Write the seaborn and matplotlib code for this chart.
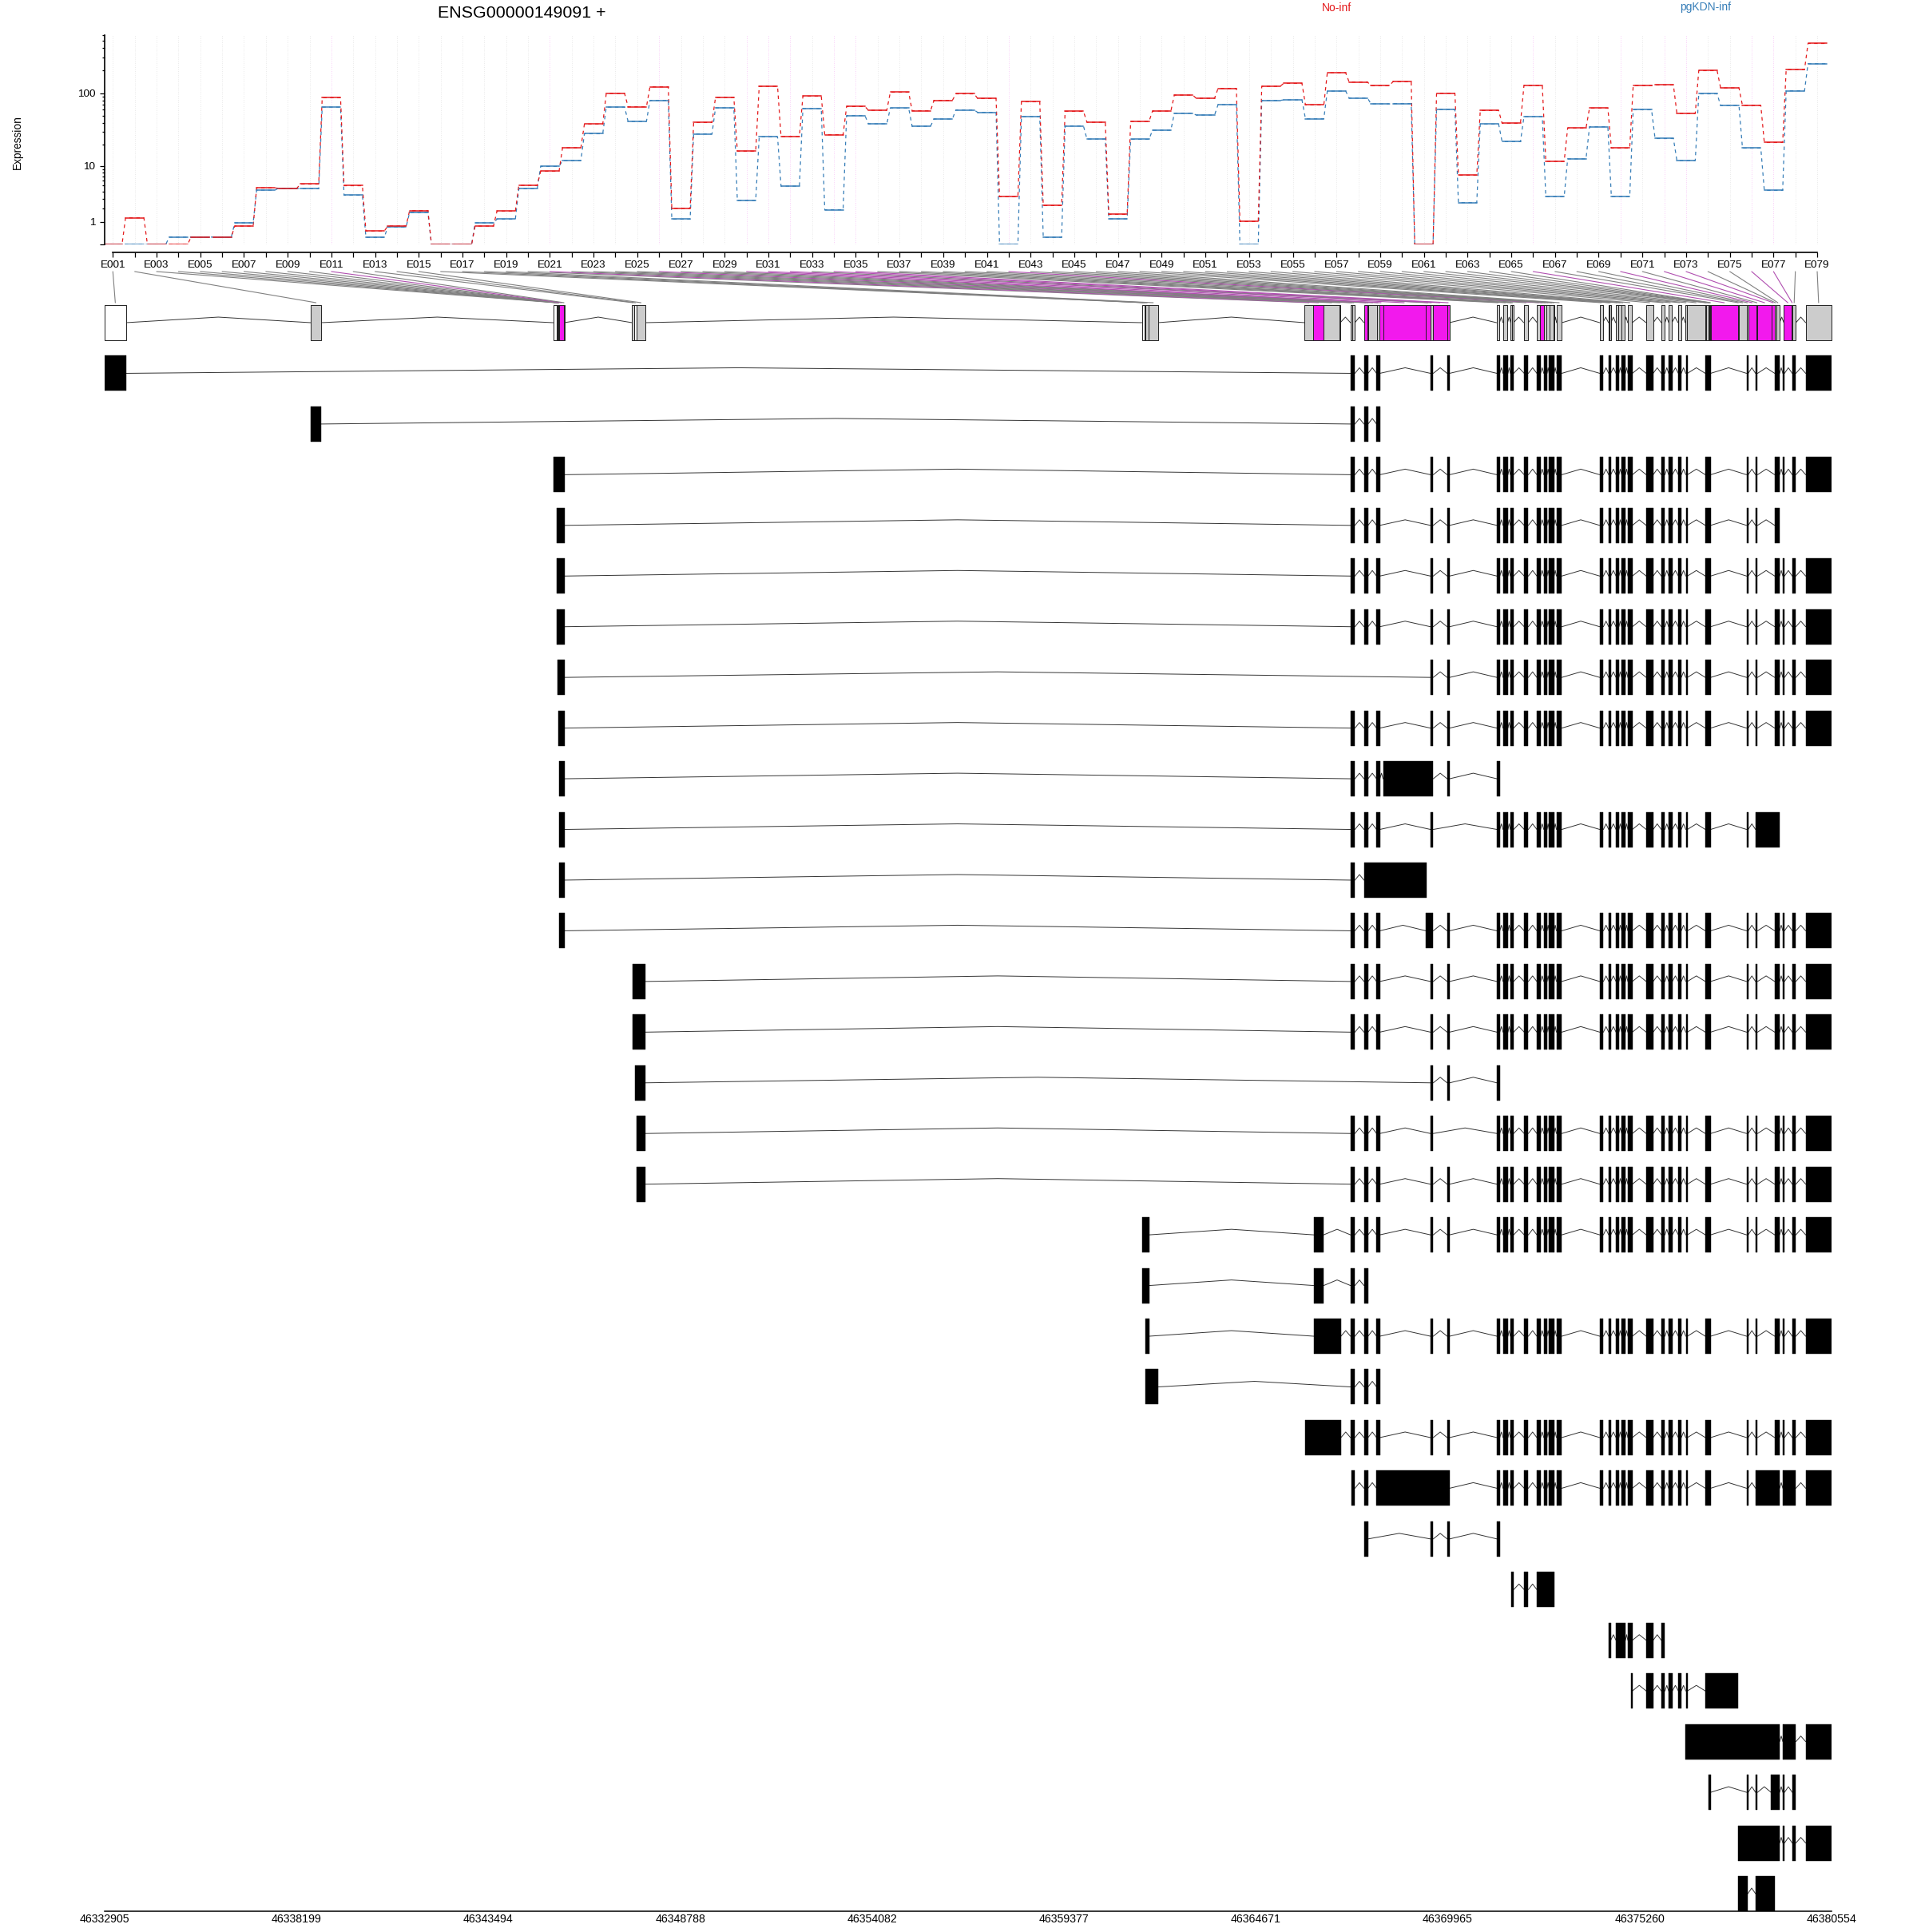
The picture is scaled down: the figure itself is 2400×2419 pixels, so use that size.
import numpy as np
import pandas as pd
import matplotlib
matplotlib.use('Agg')
import matplotlib.pyplot as plt
from matplotlib.patches import ConnectionPatch
import seaborn as sns

W, H = 2400, 2419

gene_id = 'ENSG00000149091 +'
gene_start = 46332905
gene_end = 46380554
genome_ticks = [46332905, 46338199, 46343494, 46348788, 46354082,
                46359377, 46364671, 46369965, 46375260, 46380554]

exon_names = [f'E{i:03d}' for i in range(1, 80)]

no_inf = [0, 1.25, 0, 0, .25, .25, .75, 4.6, 4.55, 5.3,
          86.8, 5.0, .5, .75, 1.8, 0, 0, .75, 1.76, 5.07,
          8.33, 18.1, 38.3, 99, 65.6, 121.5, 2.0, 40.3, 87.5, 16.2,
          123.5, 25.8, 91.2, 27.4, 66.2, 58.9, 103, 58, 80, 98,
          84.7, 3.28, 76.7, 2.27, 57, 40.6, 1.5, 41.6, 57.5, 94.3,
          85.4, 115.7, 1.01, 123.5, 135, 69.5, 187, 140.8, 125.6, 142,
          0, 99.8, 7.26, 58.5, 39.3, 126.6, 11.6, 33.8, 63, 17.9,
          126.6, 128.7, 53.4, 200, 117.6, 68.4, 21.4, 206.7, 459]
pgkdn_inf = [0, 0, 0, .25, .25, .25, .93, 4.24, 4.55, 4.46,
             65, 3.49, .24, .7, 1.65, 0, 0, .93, 1.16, 4.46,
             9.8, 11.9, 28.3, 65, 41.6, 80, 1.16, 28.1, 63.5, 2.82,
             25.6, 4.92, 61.9, 1.88, 49.9, 38.6, 63, 35.8, 44.9, 59.5,
             55.2, 0, 48.3, .24, 36.1, 23.9, 1.18, 23.7, 31.6, 53.8,
             50.8, 70.1, 0, 80, 81.3, 45.2, 106.6, 86.1, 71.8, 72.4,
             0, 60.4, 2.58, 38.3, 22, 48.3, 3.28, 12.6, 35.2, 3.28,
             59.9, 24.3, 11.9, 98, 68.4, 17.9, 4.2, 107.5, 247.4]

# exon bins, bp from gene start
bin_start = [0, 5686, 12376, 12480, 12489, 12498, 12506, 12515, 12524, 12532,
             12541, 12663, 14553, 14604, 14686, 28624, 28691, 28725, 28804, 33112,
             33348, 33635, 34075, 34376, 34430, 34745, 34848, 34870, 35104, 35164,
             35274, 36443, 36575, 36641, 37039, 38406, 38583, 38797, 38826, 39157,
             39525, 39604, 39723, 39774, 39878, 39979, 40062, 41252, 41495, 41528,
             41693, 41775, 41848, 42024, 42532, 42951, 43156, 43414, 43613, 43657,
             44164, 44186, 44246, 44275, 44300, 44319, 45062, 45090, 45304, 45349,
             45569, 45609, 45995, 46081, 46120, 46333, 46553, 46570, 46936]
bin_end = [588, 5979, 12480, 12489, 12498, 12506, 12515, 12524, 12532, 12541,
           12663, 12685, 14604, 14686, 14913, 28691, 28725, 28804, 29063, 33348,
           33635, 34075, 34094, 34430, 34499, 34848, 34870, 35104, 35164, 35274,
           36443, 36575, 36641, 37039, 37105, 38488, 38709, 38826, 38876, 39282,
           39604, 39723, 39774, 39878, 39979, 40001, 40209, 41340, 41528, 41562,
           41775, 41848, 41936, 42150, 42731, 43053, 43244, 43502, 43657, 44164,
           44186, 44246, 44275, 44300, 44319, 45062, 45090, 45304, 45349, 45569,
           45609, 45995, 46081, 46120, 46216, 46553, 46570, 46666, 47649]
sig_bins = [11, 21, 26, 30, 31, 32, 34, 35, 42, 66, 70, 72, 73, 76, 77]
white_bins = [1, 3, 14, 16, 17]

# exons shared by most transcripts
core = [(34376, 34499), (34747, 34860), (35096, 35186), (36582, 36660), (37043, 37111),
        (38416, 38495), (38585, 38720), (38788, 38878), (39170, 39283), (39519, 39620),
        (39710, 39800), (39857, 39992), (40059, 40206), (41253, 41354), (41500, 41556),
        (41703, 41781), (41860, 41962), (42029, 42153), (42536, 42727), (42952, 43053),
        (43154, 43256), (43424, 43503), (43627, 43672), (44167, 44314), (45304, 45349),
        (45552, 45608), (46081, 46216), (46306, 46351), (46565, 46666), (46936, 47649)]

transcripts = [
    [(0, 588)] + core,
    [(5686, 5979)] + core[:3],
    [(12376, 12685)] + core,
    [(12480, 12685)] + core[:27],
    [(12480, 12685)] + core,
    [(12480, 12685)] + core,
    [(12500, 12685)] + core[3:],
    [(12517, 12685)] + core,
    [(12530, 12685)] + core[:3] + [(35276, 36660)] + core[4:6],
    [(12530, 12685)] + core[:4] + core[5:25] + [(45552, 46216)],
    [(12530, 12685)] + core[:1] + [(34747, 36469)],
    [(12530, 12685)] + core[:3] + [(36458, 36660)] + core[4:],
    [(14573, 14913)] + core,
    [(14573, 14913)] + core,
    [(14624, 14913)] + core[3:6],
    [(14680, 14913)] + core[:4] + core[5:],
    [(14680, 14913)] + core,
    [(28632, 28820), (33363, 33636)] + core,
    [(28632, 28820), (33363, 33636)] + core[:2],
    [(28716, 28820), (33363, 34112)] + core,
    [(28716, 29075)] + core[:3],
    [(33127, 34112)] + core,
    [(34409, 34499), core[1], (35096, 37111)] + core[5:25] + [(45552, 46216), (46306, 46666), core[29]],
    [core[1], core[3], core[4], core[5]],
    [(38810, 38878), core[8], (39519, 40003)],
    [(41511, 41556), (41703, 41962), core[17], core[18], core[19]],
    [(42108, 42153)] + core[18:23] + [(44167, 45079)],
    [(43616, 46216), (46306, 46666), core[29]],
    [(44247, 44314), core[24], core[25], (45979, 46216), core[27], core[28]],
    [(45068, 46216), core[27], core[28], core[29]],
    [(45068, 45338), (45552, 46092)],
]

RED = '#E41A1C'
BLUE = '#377EB8'
MAGENTA = '#F219ED'


def px_rect(left, top, right, bottom):
    return [left / W, 1 - bottom / H, (right - left) / W, (bottom - top) / H]


def intron_path(exons, row):
    xs, ys = [], []
    for (_, e0), (s1, _) in zip(exons[:-1], exons[1:]):
        if s1 <= e0:
            continue
        xs += [e0, (e0 + s1) / 2, s1, np.nan]
        ys += [row, row - 0.11, row, np.nan]
    return gene_start + np.array(xs, dtype=float), np.array(ys, dtype=float)


def plot_expression(ax):
    half = 0.42
    rows = []
    for name, vals in [('pgKDN-inf', pgkdn_inf), ('No-inf', no_inf)]:
        for i, v in enumerate(vals, start=1):
            rows.append({'cond': name, 'seg': i, 'x': i - half, 'expr': v})
            rows.append({'cond': name, 'seg': i, 'x': i + half, 'expr': v})
    df = pd.DataFrame(rows)
    palette = {'No-inf': RED, 'pgKDN-inf': BLUE}

    for i, _ in enumerate(exon_names, start=1):
        col = '#F9CDF8' if i in sig_bins else '#E8E8E8'
        ax.axvline(i, color=col, lw=0.7, ls=':', zorder=0)

    sns.lineplot(data=df, x='x', y='expr', hue='cond', palette=palette,
                 hue_order=['pgKDN-inf', 'No-inf'], estimator=None, sort=False,
                 errorbar=None, legend=False, lw=0.9, linestyle=(0, (3.5, 3.5)), ax=ax)
    sns.lineplot(data=df, x='x', y='expr', hue='cond', units='seg', palette=palette,
                 hue_order=['pgKDN-inf', 'No-inf'], estimator=None,
                 errorbar=None, legend=False, lw=1.3, alpha=0.85, ax=ax)

    ax.set_yscale('function', functions=(lambda v: np.log10(np.maximum(v, 0) + 1),
                                         lambda y: 10 ** y - 1))
    ax.set_xlim(0.6235, 79.62)
    ax.set_ylim(0, 600)
    ax.set_xlabel('')
    ax.set_ylabel('')

    sns.despine(ax=ax, top=True, right=True)
    ax.spines['bottom'].set_position(('outward', 7.2))
    ax.spines['bottom'].set_bounds(1, 79)
    ax.spines['bottom'].set_linewidth(1.2)
    ax.spines['left'].set_linewidth(1.2)
    ax.spines['bottom'].set_color('black')
    ax.spines['left'].set_color('black')

    ax.set_xticks(range(1, 80))
    ax.set_xticklabels([n if i % 2 == 0 else '' for i, n in enumerate(exon_names)], fontsize=9.7)
    ax.tick_params(axis='x', bottom=True, length=4.3, width=0.9, pad=3, color='black')

    ax.set_yticks([0, 1, 10, 100])
    ax.set_yticklabels(['', '1', '10', '100'], fontsize=9.7)
    ax.set_yticks([2, 3, 4, 5, 6, 7, 8, 9, 20, 30, 40, 50, 60, 70, 80, 90,
                   200, 300, 400, 500, 600], minor=True)
    ax.tick_params(axis='y', which='major', left=True, length=4.3, width=0.9, pad=4, color='black')
    ax.tick_params(axis='y', which='minor', left=True, length=2.2, width=0.9, color='black')


def plot_model(ax):
    h = 44 / 63.45

    # top row, one box per exon bin
    for i, (s, e) in enumerate(zip(bin_start, bin_end), start=1):
        if i in sig_bins:
            fc = MAGENTA
        elif i in white_bins:
            fc = 'white'
        else:
            fc = '#CCCCCC'
        ax.broken_barh([(gene_start + s, e - s)], (-h / 2, h), facecolors=fc,
                       edgecolor='#222222', linewidth=0.7, zorder=3)
    xs, ys = intron_path(list(zip(bin_start, bin_end)), 0)
    ax.plot(xs, ys, color='#333333', lw=0.7, zorder=1)

    for row, exons in enumerate(transcripts, start=1):
        ax.broken_barh([(gene_start + s, e - s) for s, e in exons], (row - h / 2, h),
                       facecolors='black', edgecolor='black', linewidth=0.3, zorder=3)
        xs, ys = intron_path(exons, row)
        ax.plot(xs, ys, color='#333333', lw=0.7, zorder=1)

    ax.set_xlim(gene_start, gene_end)
    ax.set_ylim(31 + h / 2, -h / 2)
    ax.set_yticks([])
    ax.set_xticks(genome_ticks)
    ax.set_xticklabels([str(t) for t in genome_ticks], fontsize=10.2)
    ax.tick_params(axis='x', bottom=False, length=0, pad=2)
    for side in ['top', 'left', 'right']:
        ax.spines[side].set_visible(False)
    ax.spines['bottom'].set_linewidth(1.1)
    ax.spines['bottom'].set_color('black')
    ax.patch.set_alpha(0)


def connect_bins(fig, ax_expr, ax_model):
    h = 44 / 63.45
    # y of the link ends, as axes fractions and row units
    top_frac = -(340 - 306) / (306 - 43.5)
    bottom_row = -h / 2 - 3 / 63.45
    for i, (s, e) in enumerate(zip(bin_start, bin_end), start=1):
        col = '#B04FB0' if i in sig_bins else '#808080'
        con = ConnectionPatch(xyA=(i, top_frac), coordsA=ax_expr.get_xaxis_transform(),
                              xyB=(gene_start + (s + e) / 2, bottom_row), coordsB=ax_model.transData,
                              arrowstyle='-', color=col, lw=0.8, shrinkA=0, shrinkB=0)
        fig.add_artist(con)


def main():
    sns.set_theme(style='white')
    plt.rcParams['font.family'] = ['Liberation Sans', 'DejaVu Sans']
    plt.rcParams['text.color'] = 'black'
    plt.rcParams['xtick.color'] = 'black'
    plt.rcParams['ytick.color'] = 'black'

    fig = plt.figure(figsize=(W / 100, H / 100), dpi=100, facecolor='white')
    ax_expr = fig.add_axes(px_rect(131, 43.5, 2292, 306))
    ax_model = fig.add_axes(px_rect(131, 382, 2293, 2393))

    plot_expression(ax_expr)
    plot_model(ax_model)
    connect_bins(fig, ax_expr, ax_model)

    fig.text(653 / W, 1 - 17 / H, gene_id, ha='center', va='center', fontsize=15.4)
    fig.text(1673 / W, 1 - 9.5 / H, 'No-inf', ha='center', va='center', fontsize=10, color=RED)
    fig.text(2135 / W, 1 - 9.5 / H, 'pgKDN-inf', ha='center', va='center', fontsize=10, color=BLUE)
    fig.text(22 / W, 1 - 178 / H, 'Expression', rotation=90, ha='center', va='center', fontsize=9.9)

    fig.savefig('out.png', dpi=100)
    plt.close(fig)


main()
